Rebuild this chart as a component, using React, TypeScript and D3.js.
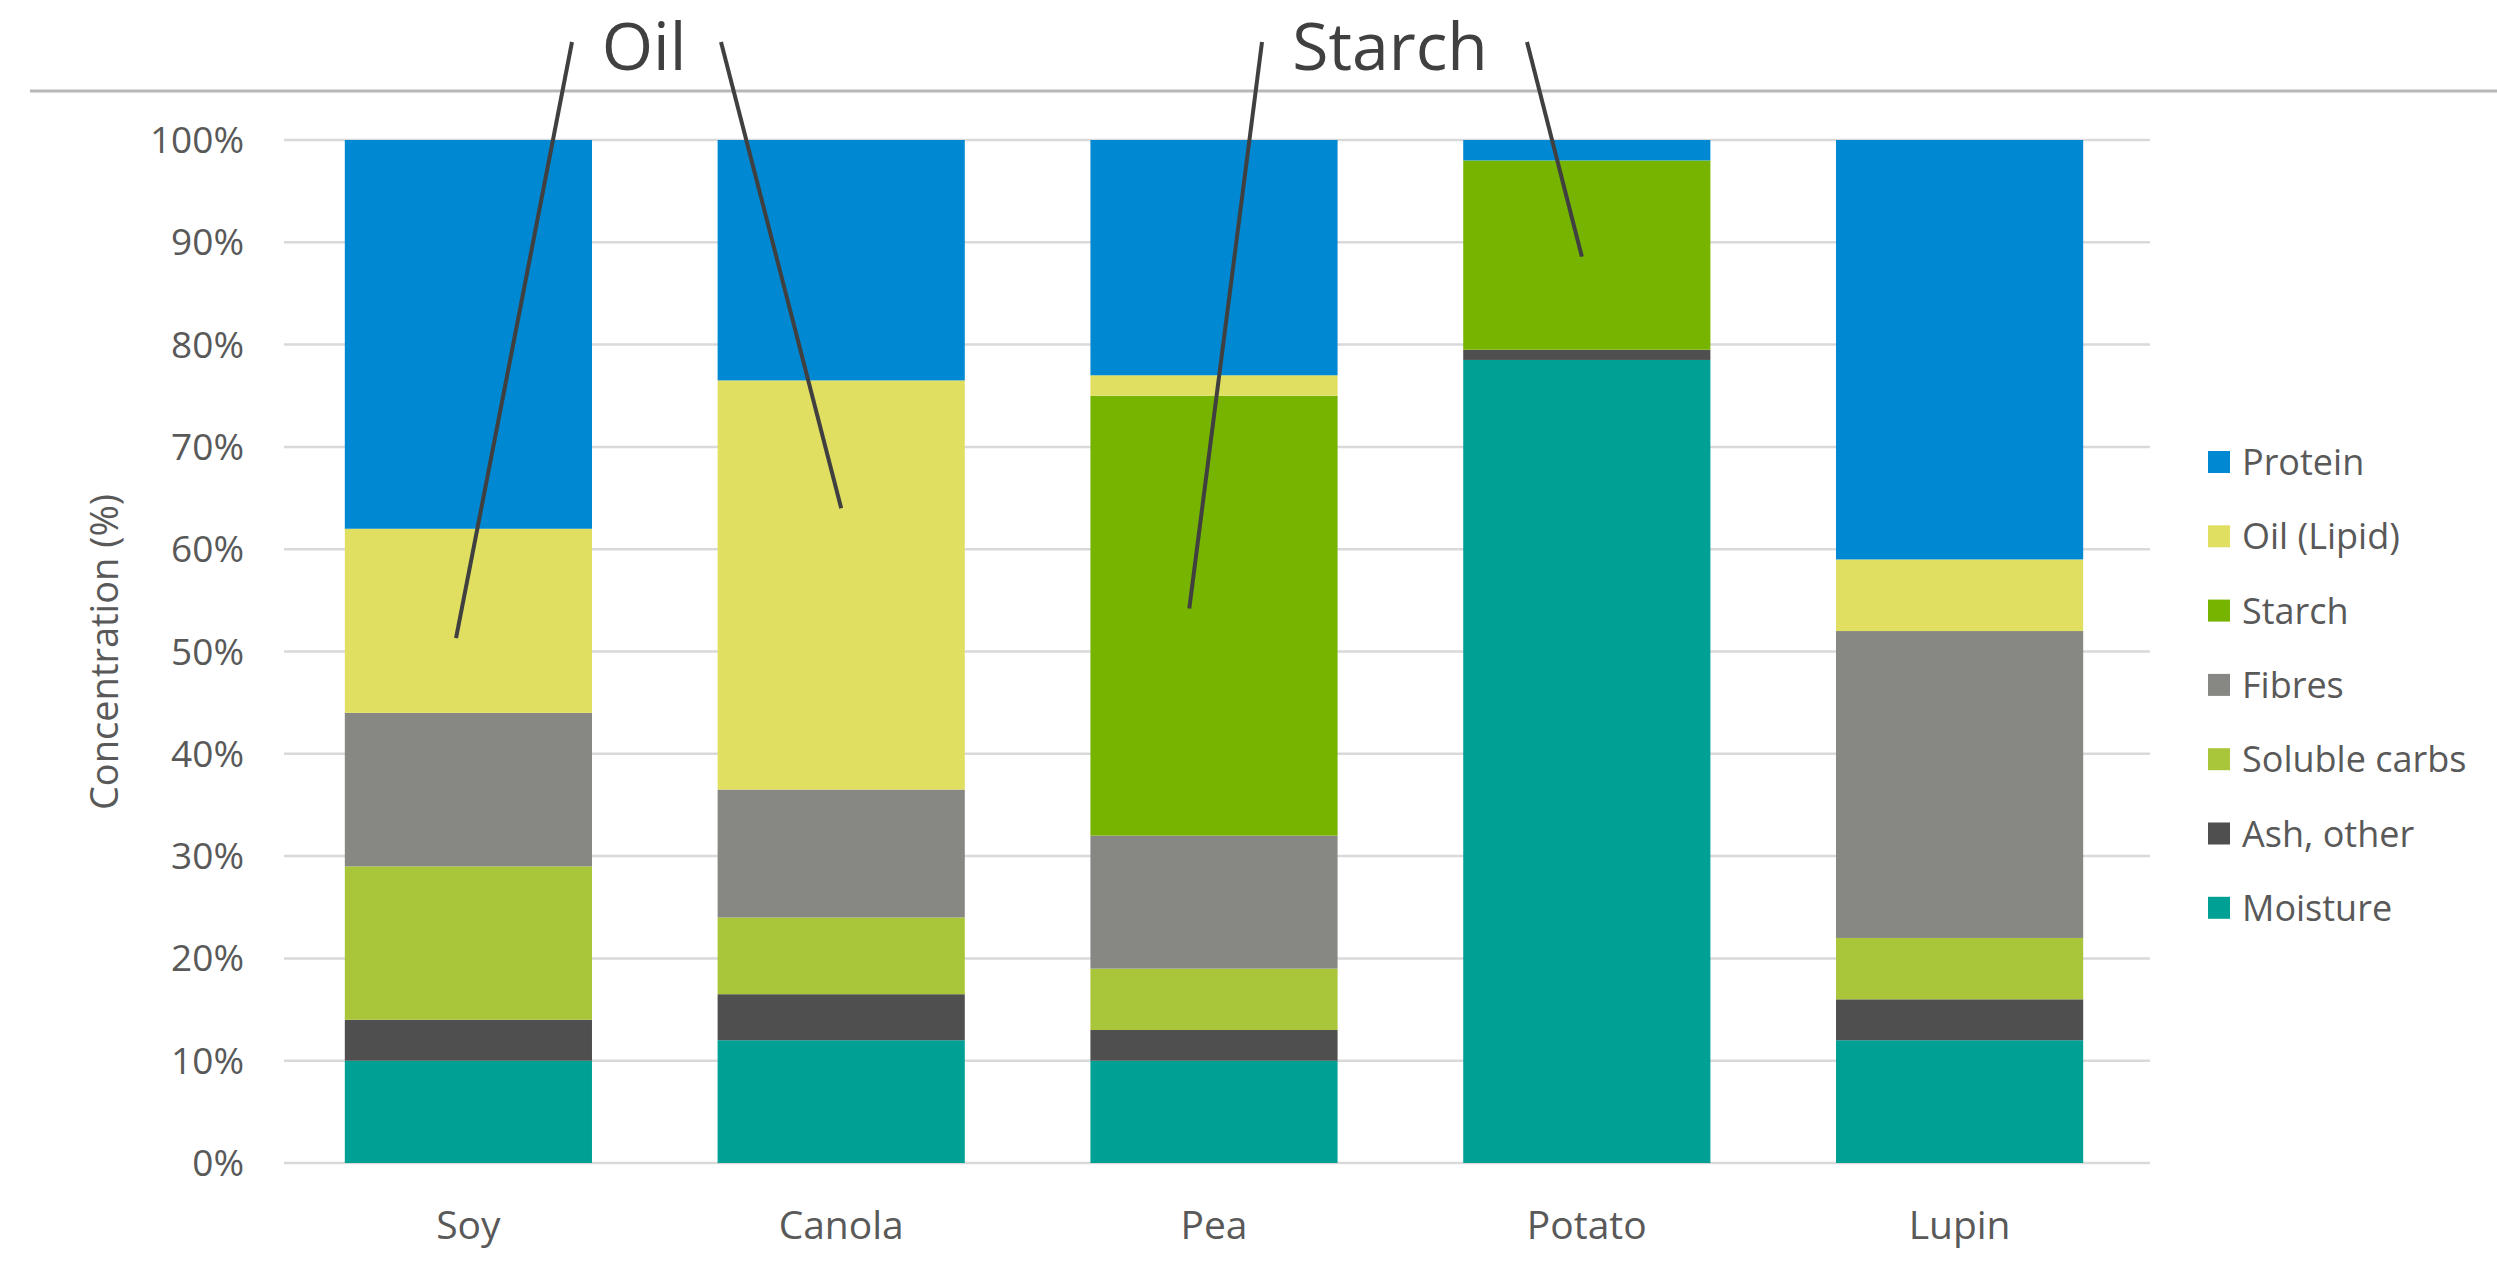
import React, { useRef, useEffect } from "react";
import * as d3 from "d3";

const categories = ["Soy", "Canola", "Pea", "Potato", "Lupin"];

// stacked bottom -> top
const moisture = [10, 12, 10, 78.5, 12];
const ash = [4, 4.5, 3, 1, 4];
const solubleCarbs = [15, 7.5, 6, 0, 6];
const fibres = [15, 12.5, 13, 0, 30];
const starch = [0, 0, 43, 18.5, 0];
const oil = [18, 40, 2, 0, 7];
const protein = [38, 23.5, 23, 2, 41];

const seriesNames = ["Moisture", "Ash, other", "Soluble carbs", "Fibres", "Starch", "Oil (Lipid)", "Protein"];
const seriesValues = [moisture, ash, solubleCarbs, fibres, starch, oil, protein];
const seriesColors = ["#00a095", "#4f4f4f", "#a9c63a", "#878783", "#77b400", "#e1df61", "#0088d2"];

const yTicks = [0, 10, 20, 30, 40, 50, 60, 70, 80, 90, 100];

// callout pointers: category, value (%) where the line ends, shift from bar centre (fraction of bar width)
const callouts = [
  { label: "Oil", cx: 644, left: -72, right: 77, targets: [["Soy", 51.3, -0.05], ["Canola", 64, 0]] },
  { label: "Starch", cx: 1390, left: -128, right: 137, targets: [["Pea", 54.2, -0.1], ["Potato", 88.6, -0.02]] },
];

const W = 2497;
const H = 1274;
const FONT = "'Open Sans', 'Segoe UI', sans-serif";
const TEXT = "#595959";

const App = () => {
  const svgRef = useRef(null);

  useEffect(() => {
    document.body.style.margin = "0";
    const svg = d3.select(svgRef.current);
    svg.selectAll("*").remove();

    const x = d3.scaleBand().domain(categories).range([282, 2146]).paddingInner(0.337).paddingOuter(0.1685);
    const y = d3.scaleLinear().domain([0, 100]).range([1163, 140]);

    const table = categories.map((c, i) => {
      const row = { category: c };
      seriesNames.forEach((s, k) => (row[s] = seriesValues[k][i]));
      return row;
    });
    const stacked = d3.stack().keys(seriesNames)(table);
    const color = d3.scaleOrdinal().domain(seriesNames).range(seriesColors);

    // top separator line
    svg.append("line").attr("x1", 30).attr("x2", W).attr("y1", 91).attr("y2", 91)
      .attr("stroke", "#b8b8b8").attr("stroke-width", 3);

    // gridlines
    svg.append("g").selectAll("line").data(yTicks).enter().append("line")
      .attr("x1", 284).attr("x2", 2150)
      .attr("y1", (d) => y(d)).attr("y2", (d) => y(d))
      .attr("stroke", "#d9d9d9").attr("stroke-width", 2.5);

    // y tick labels
    svg.append("g").selectAll("text").data(yTicks).enter().append("text")
      .attr("x", 244).attr("y", (d) => y(d) + 13)
      .attr("text-anchor", "end").attr("font-family", FONT).attr("font-size", 37)
      .attr("fill", TEXT).text((d) => `${d}%`);

    // y axis title
    svg.append("text").attr("transform", "translate(118,652) rotate(-90)")
      .attr("text-anchor", "middle").attr("font-family", FONT).attr("font-size", 38)
      .attr("fill", TEXT).text("Concentration (%)");

    // bars
    svg.append("g").selectAll("g").data(stacked).enter().append("g")
      .attr("fill", (d) => color(d.key))
      .selectAll("rect").data((d) => d).enter().append("rect")
      .attr("x", (d) => x(d.data.category))
      .attr("width", x.bandwidth())
      .attr("y", (d) => y(d[1]))
      .attr("height", (d) => y(d[0]) - y(d[1]));

    // category labels
    svg.append("g").selectAll("text").data(categories).enter().append("text")
      .attr("x", (d) => x(d) + x.bandwidth() / 2).attr("y", 1239)
      .attr("text-anchor", "middle").attr("font-family", FONT).attr("font-size", 39)
      .attr("fill", TEXT).text((d) => d);

    // legend (top series first)
    const legendNames = seriesNames.slice().reverse();
    const legend = svg.append("g").selectAll("g").data(legendNames).enter().append("g")
      .attr("transform", (d, i) => `translate(2208,${462 + i * 74.3})`);
    legend.append("rect").attr("x", 0).attr("y", -11).attr("width", 22).attr("height", 22)
      .attr("fill", (d) => color(d));
    legend.append("text").attr("x", 34).attr("y", 13)
      .attr("font-family", FONT).attr("font-size", 36).attr("fill", TEXT).text((d) => d);

    // callouts
    callouts.forEach((c) => {
      svg.append("text").attr("x", c.cx).attr("y", 70)
        .attr("text-anchor", "middle").attr("font-family", FONT).attr("font-size", 66)
        .attr("fill", "#404040").text(c.label);
      const tops = [c.cx + c.left, c.cx + c.right];
      c.targets.forEach(([cat, v, dx], i) => {
        svg.append("line")
          .attr("x1", tops[i]).attr("y1", 42)
          .attr("x2", x(cat) + x.bandwidth() * (0.5 + dx)).attr("y2", y(v))
          .attr("stroke", "#404040").attr("stroke-width", 4);
      });
    });
  }, []);

  return <svg ref={svgRef} width={W} height={H} style={{ display: "block", background: "#fff" }}></svg>;
};

export default App;
